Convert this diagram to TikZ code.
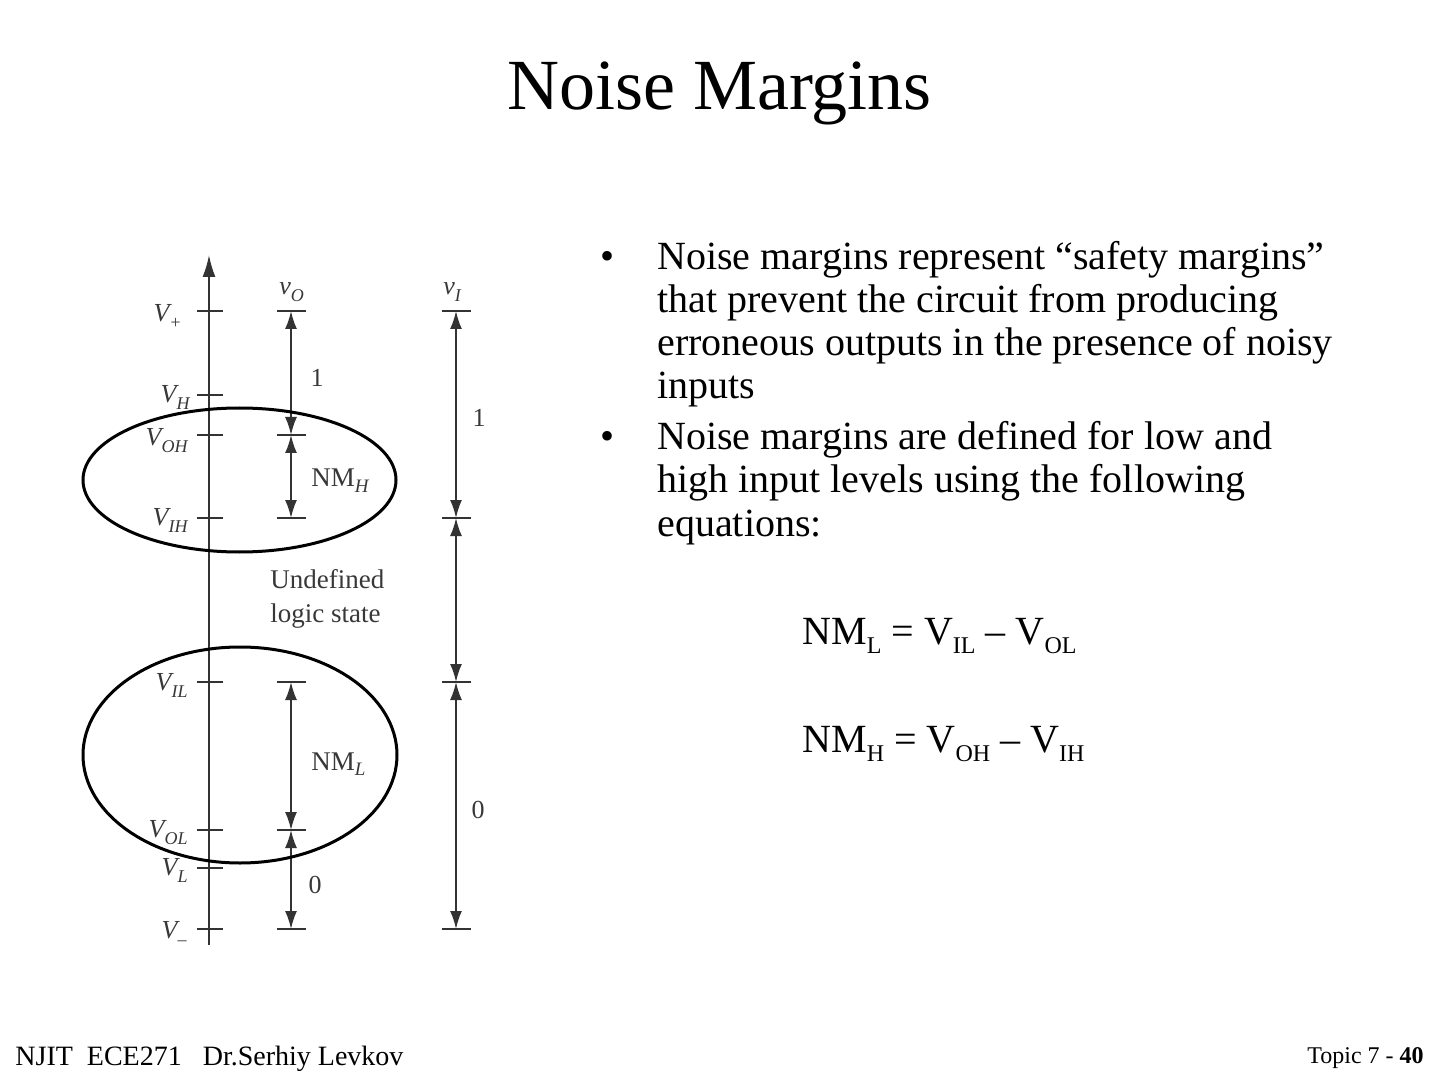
\documentclass[tikz,border=0pt]{standalone}
\usepackage{fontspec}
\setmainfont{Liberation Serif}
\usetikzlibrary{arrows.meta}
\definecolor{diag}{gray}{0.2}
\definecolor{diagtext}{gray}{0.22}
\newcommand\dsub[1]{\raisebox{-3.5pt}{\fontsize{9}{9}\selectfont\itshape #1}}
\newcommand\nsub[1]{\raisebox{-2.5pt}{\fontsize{9.5}{9.5}\selectfont\itshape #1}}
\newcommand\esub[1]{\raisebox{-4.5pt}{\fontsize{12}{12}\selectfont #1}}
\begin{document}
\begin{tikzpicture}[x=0.5pt,y=-0.5pt,
  dimarrow/.style={draw=diag,line width=0.9pt,{Latex[length=9pt,width=6pt]}-{Latex[length=9pt,width=6pt]}},
  tickline/.style={draw=diag,line width=0.9pt},
  lvl/.style={anchor=base east,inner sep=0pt,font=\fontsize{13}{13}\selectfont\itshape,text=diagtext},
  num/.style={inner sep=0pt,font=\fontsize{13}{13}\selectfont,text=diagtext},
  nmlab/.style={anchor=base west,inner sep=0pt,font=\fontsize{13.5}{13.5}\selectfont,text=diagtext},
  body/.style={anchor=base west,inner sep=0pt,font=\fontsize{20}{21.5}\selectfont},
  ring/.style={draw=black,line width=1.5pt}]
\useasboundingbox (0,0) rectangle (1440,1080);

% title
\node[anchor=base,inner sep=0pt,font=\fontsize{36}{40}\selectfont] (title) at (719.5,110) {Noise Margins};

% main axis
\coordinate (axbot) at (209,945);
\coordinate (axtop) at (209,255);
\draw[draw=diag,line width=0.9pt,-{Latex[length=11pt,width=6.5pt]}] (axbot) -- (axtop);

% level ticks on main axis
\foreach \n/\y in {Vp/311,VH/395,VOH/435,VIH/518,VIL/682,VOL/830,VL/868,Vm/929}{
  \coordinate (a\n) at (209,\y);
  \draw[tickline] (a\n) +(-12,0) -- +(14,0);
}

% level labels
\node[lvl] (lVp)  at (182,322) {V\dsub{+}};
\node[lvl] (lVH)  at (190,403) {V\dsub{H}};
\node[lvl] (lVOH) at (188,445) {V\dsub{OH}};
\node[lvl] (lVIH) at (188,525) {V\dsub{IH}};
\node[lvl] (lVIL) at (188,690) {V\dsub{IL}};
\node[lvl] (lVOL) at (188,837) {V\dsub{OL}};
\node[lvl] (lVL)  at (188,875) {V\dsub{L}};
\node[lvl] (lVm)  at (187,938) {V\dsub{–}};

% v_O column
\foreach \n/\y in {1/311,2/435,3/518,4/682,5/830,6/929}{
  \coordinate (o\n) at (291,\y);
  \draw[tickline] (o\n) +(-14,0) -- +(15,0);
}
\node[lvl,anchor=base west] (vO) at (279,295) {v\dsub{O}};
\draw[dimarrow] (o1) -- (o2);
\draw[dimarrow] (o2) -- (o3);
\draw[dimarrow] (o4) -- (o5);
\draw[dimarrow] (o5) -- (o6);
\node[num] (one1) at (317,378) {1};
\node[nmlab] (nmh) at (311,487) {NM\nsub{H}};
\node[nmlab] (nml) at (311,770) {NM\nsub{L}};
\node[num] (zero1) at (315,885) {0};

% undefined
\node[nmlab] (und1) at (270,588) {Undefined};
\node[nmlab] (und2) at (270,622) {logic state};

% v_I column
\foreach \n/\y in {1/311,2/518,3/682,4/929}{
  \coordinate (i\n) at (456,\y);
  \draw[tickline] (i\n) +(-14,0) -- +(15,0);
}
\node[lvl,anchor=base west] (vI) at (443,295) {v\dsub{I}};
\draw[dimarrow] (i1) -- (i2);
\draw[dimarrow] (i2) -- (i3);
\draw[dimarrow] (i3) -- (i4);
\node[num] (one2) at (479,418) {1};
\node[num] (zero2) at (478,810) {0};

% ellipses
\draw[ring] (239.5,480) ellipse [x radius=78.25pt, y radius=36pt];
\draw[ring] (240,755) ellipse [x radius=78.5pt, y radius=54pt];

% bullets
\node[body] (bul1) at (600,270) {•};
\node[body] (b1l1) at (657,270) {Noise margins represent “safety margins”};
\node[body] (b1l2) at (657,313) {that prevent the circuit from producing};
\node[body] (b1l3) at (657,356) {erroneous outputs in the presence of noisy};
\node[body] (b1l4) at (657,399) {inputs};
\node[body] (bul2) at (600,450) {•};
\node[body] (b2l1) at (657,450) {Noise margins are defined for low and};
\node[body] (b2l2) at (657,493) {high input levels using the following};
\node[body] (b2l3) at (657,536) {equations:};

% equations
\node[body] (eq1) at (802,644) {NM\esub{L} = V\esub{IL} – V\esub{OL}};
\node[body] (eq2) at (802,752) {NM\esub{H} = V\esub{OH} – V\esub{IH}};

% footer
\node[anchor=base west,inner sep=0pt,font=\fontsize{14}{14}\selectfont] (foot) at (15,1065) {NJIT\ \ ECE271\ \ \ Dr.Serhiy Levkov};
\node[anchor=base east,inner sep=0pt,font=\fontsize{12}{12}\selectfont] (page) at (1424,1063) {Topic 7 - \textbf{40}};
\end{tikzpicture}
\end{document}
